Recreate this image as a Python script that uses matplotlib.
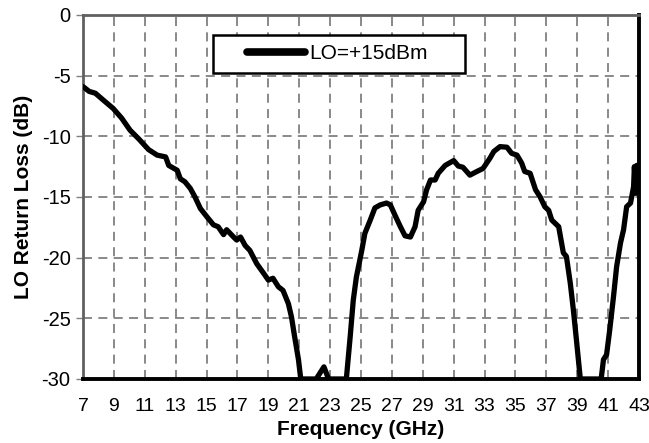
import numpy as np
import matplotlib
matplotlib.use('Agg')
import matplotlib.pyplot as plt
from matplotlib.patches import Rectangle

plt.rcParams['font.family'] = ['Liberation Sans', 'DejaVu Sans']
plt.rcParams['axes.unicode_minus'] = False

# LO return loss, LO = +15 dBm
freq = [7.0, 7.4, 7.8, 8.3, 8.95, 9.5, 10.05, 10.6, 11.25, 11.8, 12.35, 12.55,
        13.1, 13.3, 13.6, 13.95, 14.25, 14.6, 15.0, 15.45, 15.75, 16.1, 16.3,
        16.75, 16.95, 17.2, 17.5, 17.8, 18.25, 18.7, 19.0, 19.3, 19.65, 19.95,
        20.3, 20.5, 20.7, 20.95, 21.1, 22.1, 22.35, 22.6, 22.9, 24.05,
        24.3, 24.5, 24.7, 25.05, 25.25, 25.6, 25.9, 26.25, 26.65, 26.9, 27.2,
        27.55, 27.85, 28.2, 28.5, 28.7, 29.05, 29.25, 29.5, 29.8, 30.0, 30.45,
        31.0, 31.3, 31.6, 32.05, 32.5, 32.9, 33.35, 33.6, 34.0, 34.45, 34.75,
        35.1, 35.4, 35.6, 35.95, 36.3, 36.6, 36.9, 37.15, 37.35, 37.8, 38.1,
        38.3, 38.55, 38.75, 38.95, 39.2, 40.55, 40.7, 40.9, 41.1, 41.35,
        41.55, 41.8, 42.0, 42.2, 42.45, 42.65, 42.7, 42.8, 42.85, 42.95]
rl_db = [-5.9, -6.3, -6.45, -7.0, -7.7, -8.5, -9.5, -10.2, -11.1, -11.55, -11.7, -12.4,
         -12.8, -13.5, -13.75, -14.3, -15.0, -15.95, -16.6, -17.3, -17.45, -18.1, -17.7,
         -18.3, -18.55, -18.3, -19.0, -19.4, -20.5, -21.3, -21.85, -21.7, -22.4, -22.7,
         -23.8, -24.9, -26.5, -28.4, -30.0, -30.0, -29.5, -29.0, -30.0, -30.0,
         -26.5, -23.5, -21.6, -19.4, -18.0, -16.9, -15.9, -15.65, -15.5, -15.65, -16.5,
         -17.45, -18.2, -18.3, -17.45, -16.1, -15.4, -14.4, -13.6, -13.6, -13.05, -12.4,
         -12.0, -12.45, -12.55, -13.2, -12.9, -12.65, -11.8, -11.25, -10.85, -10.9, -11.4,
         -11.55, -12.2, -12.9, -13.05, -14.4, -15.0, -15.8, -16.1, -16.9, -17.45, -19.6,
         -19.9, -22.1, -24.3, -26.8, -30.0, -30.0, -28.4, -28.0, -26.0, -23.2,
         -20.75, -18.8, -17.7, -15.8, -15.5, -14.15, -12.5, -14.7, -12.4, -14.0]

xticks = np.arange(7, 44, 2)
yticks = np.arange(-30, 1, 5)

fig = plt.figure(figsize=(6.49, 4.43), dpi=100)
ax = fig.add_axes([0.1279, 0.1445, 0.8567, 0.8217])

ax.plot(freq, rl_db, color='black', lw=3.8, solid_joinstyle='round',
        solid_capstyle='round', label='LO=+15dBm', zorder=3)

ax.set_xlim(7, 43)
ax.set_ylim(-30, 0)
ax.set_xticks(xticks)
ax.set_yticks(yticks)
ax.tick_params(axis='x', length=0, pad=14, labelsize=14)
ax.tick_params(axis='y', length=5, width=1, color='#808080', direction='out',
               pad=4, labelsize=14.5)

ax.grid(True, color='#808080', lw=1.3, linestyle=(0, (5, 3.5)))
ax.set_axisbelow(True)

for side in ['left', 'top']:
    ax.spines[side].set_color('#606060')
    ax.spines[side].set_linewidth(2.0)
for side in ['right', 'bottom']:
    ax.spines[side].set_color('black')
    ax.spines[side].set_linewidth(2.8)

ax.set_xlabel('Frequency (GHz)', fontsize=15, fontweight='bold', labelpad=3)
ax.set_ylabel('LO Return Loss (dB)', fontsize=15, fontweight='bold', labelpad=6)

# legend box (drawn separately so it can be wider than its content)
ax.add_patch(Rectangle((0.2338, 0.8407), 0.4532, 0.1044, transform=ax.transAxes,
                       facecolor='white', edgecolor='black', lw=1.8, zorder=4))
leg = ax.legend(loc='center', bbox_to_anchor=(0.457, 0.893), fontsize=15,
                frameon=False, handlelength=2.8, borderpad=0,
                borderaxespad=0, handletextpad=0.2)
leg.set_zorder(5)
for h in leg.get_lines():
    h.set_linewidth(5.5)

fig.savefig('out.png', dpi=100)
